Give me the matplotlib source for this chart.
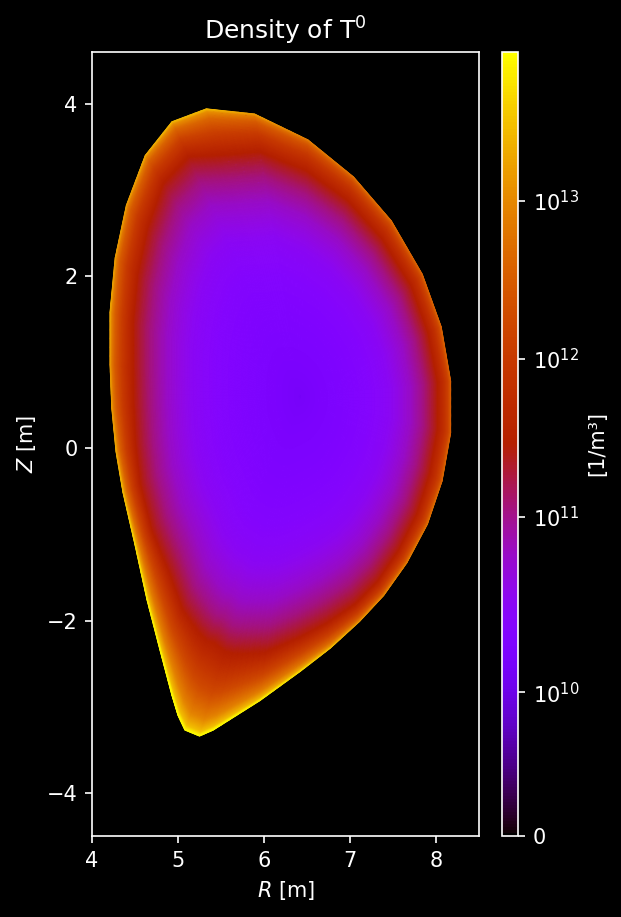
import numpy as np
import matplotlib
matplotlib.use("Agg")
import matplotlib.pyplot as plt
from matplotlib.colors import SymLogNorm

plt.style.use("dark_background")

# Boundary polygon of the plasma
boundary_R = [5.33, 4.93, 4.62, 4.40, 4.27, 4.21, 4.21, 4.23, 4.28, 4.36, 4.50, 4.64, 4.79, 4.93, 5.00, 5.08, 5.25,
              5.41, 5.95, 6.42, 6.77, 7.11, 7.39, 7.66, 7.90, 8.07, 8.17, 8.17, 8.06, 7.84, 7.48, 7.04, 6.51, 5.89]
boundary_Z = [3.94, 3.79, 3.40, 2.82, 2.21, 1.58, 0.97, 0.47, -0.04, -0.51, -1.12, -1.76, -2.34, -2.87, -3.10, -3.27, -3.34,
              -3.27, -2.93, -2.59, -2.32, -2.01, -1.71, -1.33, -0.88, -0.38, 0.18, 0.78, 1.41, 2.02, 2.64, 3.15, 3.58, 3.88]
# Density at each boundary vertex [1/m3]
edge_density = [2.7e13, 2.7e13, 2.0e13, 1.5e13, 1.5e13, 2.0e13, 1.5e13, 1.5e13, 2.0e13, 3.0e13, 5.0e13, 7.0e13, 8.0e13, 8.6e13, 8.6e13, 8.6e13, 8.6e13,
                8.6e13, 7.0e13, 5.0e13, 3.0e13, 1.5e13, 1.0e13, 8.0e12, 6.0e12, 4.5e12, 3.5e12, 3.5e12, 4.0e12, 4.0e12, 5.0e12, 6.0e12, 8.0e12, 1.5e13]
# Fraction of the way to the boundary at which the dark red band sits
band_position = [0.84, 0.873, 0.885, 0.88, 0.88, 0.88, 0.88, 0.885, 0.895, 0.905, 0.90, 0.86, 0.84, 0.79, 0.765, 0.74, 0.75,
                 0.77, 0.84, 0.876, 0.90, 0.925, 0.93, 0.925, 0.92, 0.915, 0.915, 0.915, 0.91, 0.91, 0.90, 0.895, 0.88, 0.866]
axis_point = (6.42, 0.60)
# Inner profile: fraction of the way to the band -> density
inner_fraction = [0.0, 0.15, 0.3, 0.5, 0.65, 0.8, 0.9, 1.0]
inner_density = [1.2e10, 1.45e10, 1.62e10, 2.04e10, 2.86e10, 5.7e10, 1.12e11, 2.8e11]
# Outer profile: fraction of band->edge distance -> fraction of the log rise
outer_fraction = [0.0, 0.5, 0.8, 0.95, 1.0]
outer_rise = [0.0, 0.33, 0.60, 0.82, 1.0]

cbar_ticks = [0, 1e10, 1e11, 1e12, 1e13]
cbar_ticklabels = ["0", "$\\mathdefault{10^{10}}$", "$\\mathdefault{10^{11}}$", "$\\mathdefault{10^{12}}$", "$\\mathdefault{10^{13}}$"]

W, H, DPI = 621, 917, 150
fig = plt.figure(figsize=(W / DPI, H / DPI), dpi=DPI, facecolor="black")
ax = fig.add_axes([92 / W, 1 - 836 / H, 387 / W, 784 / H])
cax = fig.add_axes([502 / W, 1 - 836 / H, 16 / W, 784 / H])

# Mesh of nested copies of the boundary
n_sub = 6
idx = np.arange(len(boundary_R) + 1)
t = np.linspace(0, len(boundary_R), len(boundary_R) * n_sub + 1)
def closed(a):
    return np.r_[a, a[0]]
bR = np.interp(t, idx, closed(boundary_R))
bZ = np.interp(t, idx, closed(boundary_Z))
logE = np.interp(t, idx, closed(np.log10(edge_density)))
band = np.interp(t, idx, closed(band_position))

rho = np.linspace(0, 1, 500)
RHO, _ = np.meshgrid(rho, t, indexing="ij")
X = axis_point[0] + RHO * (bR - axis_point[0])
Y = axis_point[1] + RHO * (bZ - axis_point[1])
log_band = np.log10(inner_density[-1])
values = np.zeros_like(X)
for j in range(len(t)):
    r = rho
    inner = np.interp(r / band[j], inner_fraction, np.log10(inner_density))
    outer = log_band + np.interp((r - band[j]) / (1 - band[j]), outer_fraction, outer_rise) * (logE[j] - log_band)
    values[:, j] = np.where(r < band[j], inner, outer)
values = 10 ** values

norm = SymLogNorm(linthresh=1.22e10, linscale=1.0, vmin=0, vmax=8.8e13, base=10)
mesh = ax.pcolormesh(X, Y, values, shading="gouraud", cmap="gnuplot", norm=norm)

ax.set_xlim(4, 8.5)
ax.set_ylim(-4.5, 4.6)
ax.set_xticks([4, 5, 6, 7, 8])
ax.set_yticks([-4, -2, 0, 2, 4])
ax.set_xlabel("$R$ [m]")
ax.set_ylabel("$Z$ [m]")
ax.set_title("Density of T$^0$")

cb = fig.colorbar(mesh, cax=cax)
cb.set_ticks(cbar_ticks)
cb.set_ticklabels(cbar_ticklabels)
cb.minorticks_off()
cb.set_label("[1/m³]")

fig.savefig("out.png", dpi=DPI, facecolor="black")
